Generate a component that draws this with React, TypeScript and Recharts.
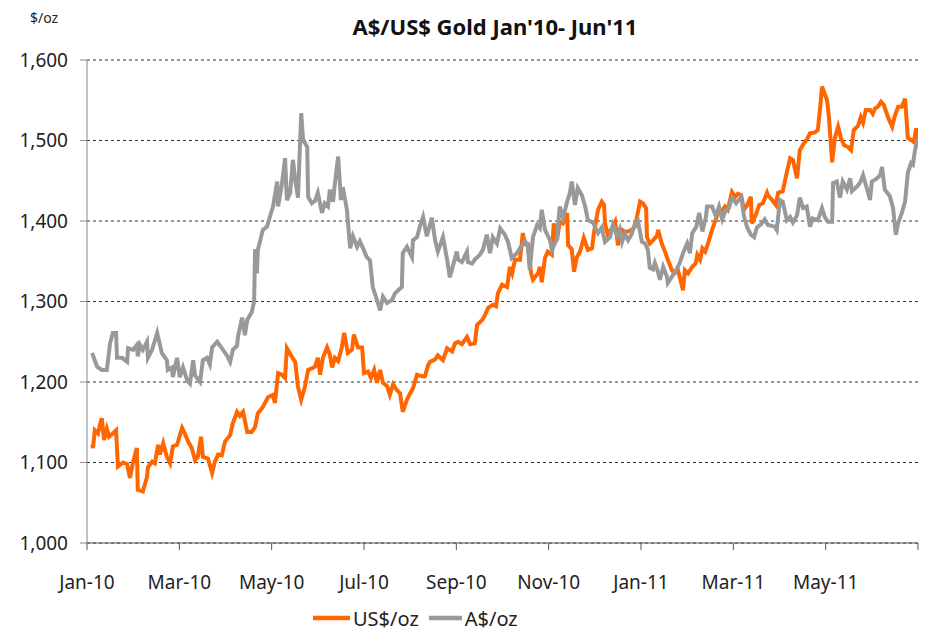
import React from "react";
import { LineChart, Line, XAxis, YAxis, CartesianGrid } from "recharts";

// Time in months since 1 Jan 2010
const usTimes = [0.11,0.13,0.17,0.24,0.28,0.32,0.37,0.43,0.48,0.54,0.63,0.67,0.78,0.87,0.93,1.00,1.08,1.10,1.21,1.30,1.32,1.41,1.47,1.54,1.58,1.65,1.73,1.80,1.86,1.95,2.06,2.12,2.19,2.27,2.34,2.40,2.47,2.51,2.62,2.71,2.77,2.84,2.92,2.99,3.10,3.16,3.25,3.31,3.38,3.47,3.57,3.64,3.70,3.81,3.92,4.03,4.07,4.14,4.22,4.29,4.33,4.44,4.51,4.57,4.64,4.72,4.79,4.87,4.94,5.00,5.05,5.11,5.20,5.26,5.31,5.37,5.44,5.52,5.57,5.65,5.74,5.78,5.87,5.96,6.00,6.09,6.15,6.22,6.28,6.35,6.41,6.50,6.56,6.63,6.71,6.78,6.84,6.93,7.00,7.06,7.15,7.26,7.32,7.39,7.43,7.54,7.60,7.71,7.80,7.91,7.97,8.04,8.12,8.23,8.30,8.40,8.45,8.56,8.62,8.69,8.79,8.86,8.90,8.99,9.10,9.16,9.21,9.27,9.38,9.44,9.49,9.55,9.62,9.66,9.77,9.81,9.85,9.92,9.98,10.07,10.11,10.18,10.24,10.31,10.40,10.42,10.50,10.55,10.61,10.68,10.76,10.85,10.94,10.98,11.07,11.15,11.20,11.22,11.28,11.37,11.44,11.50,11.59,11.65,11.72,11.80,11.87,11.93,11.98,12.04,12.11,12.13,12.19,12.26,12.35,12.37,12.45,12.52,12.58,12.67,12.73,12.80,12.84,12.91,12.95,13.02,13.11,13.18,13.22,13.28,13.33,13.39,13.45,13.54,13.60,13.67,13.75,13.82,13.88,13.97,14.04,14.10,14.17,14.23,14.30,14.38,14.40,14.49,14.56,14.64,14.73,14.75,14.84,14.92,14.97,15.07,15.16,15.23,15.29,15.38,15.44,15.51,15.59,15.66,15.77,15.83,15.88,15.92,16.03,16.07,16.14,16.20,16.27,16.33,16.40,16.48,16.55,16.61,16.70,16.76,16.81,16.87,16.96,17.02,17.07,17.13,17.20,17.26,17.35,17.44,17.50,17.57,17.65,17.72,17.78,17.87,17.91,17.96,18.00];
const usValues = [1122,1118,1140,1136,1147,1155,1128,1142,1132,1135,1140,1095,1100,1098,1081,1101,1118,1066,1064,1082,1094,1101,1099,1122,1110,1124,1107,1099,1120,1122,1143,1136,1126,1118,1103,1107,1132,1107,1105,1087,1101,1110,1109,1126,1134,1149,1163,1158,1163,1138,1138,1144,1161,1169,1181,1184,1174,1211,1209,1205,1242,1231,1225,1194,1178,1194,1215,1217,1219,1230,1209,1230,1243,1234,1218,1230,1226,1243,1261,1236,1240,1259,1243,1243,1211,1213,1205,1215,1199,1215,1199,1195,1184,1197,1190,1186,1163,1178,1186,1192,1209,1207,1207,1221,1225,1228,1233,1227,1242,1238,1248,1250,1247,1256,1247,1248,1271,1277,1283,1292,1296,1294,1310,1321,1318,1343,1335,1352,1352,1385,1371,1371,1335,1327,1335,1343,1324,1354,1362,1358,1397,1376,1399,1397,1410,1370,1365,1337,1355,1362,1379,1364,1366,1385,1414,1424,1420,1397,1383,1391,1399,1370,1389,1387,1387,1389,1393,1410,1424,1422,1416,1380,1372,1376,1382,1389,1372,1362,1352,1339,1335,1339,1330,1314,1339,1335,1343,1347,1358,1352,1366,1362,1372,1389,1399,1410,1412,1418,1414,1436,1430,1434,1432,1414,1420,1430,1397,1408,1420,1422,1435,1432,1426,1420,1435,1437,1461,1478,1476,1453,1488,1495,1501,1509,1510,1513,1540,1567,1550,1530,1473,1503,1517,1503,1494,1492,1488,1513,1518,1529,1522,1538,1538,1533,1540,1542,1548,1544,1529,1517,1531,1542,1542,1552,1503,1500,1498,1515,1501];

const audTimes = [0.11,0.22,0.32,0.43,0.50,0.56,0.63,0.65,0.76,0.87,0.89,1.00,1.08,1.10,1.15,1.21,1.30,1.32,1.41,1.52,1.62,1.73,1.75,1.84,1.86,1.95,2.01,2.08,2.17,2.23,2.30,2.34,2.45,2.51,2.60,2.66,2.71,2.82,2.92,3.03,3.10,3.16,3.25,3.27,3.36,3.42,3.47,3.57,3.62,3.64,3.68,3.70,3.81,3.90,3.96,4.03,4.12,4.14,4.22,4.29,4.33,4.40,4.46,4.51,4.57,4.64,4.68,4.77,4.79,4.87,4.94,5.00,5.09,5.15,5.22,5.26,5.33,5.37,5.44,5.50,5.54,5.63,5.70,5.76,5.85,5.91,5.98,6.06,6.13,6.19,6.28,6.35,6.41,6.50,6.61,6.67,6.74,6.82,6.84,6.93,7.04,7.06,7.15,7.21,7.28,7.36,7.47,7.54,7.60,7.71,7.80,7.86,7.93,8.01,8.04,8.12,8.23,8.25,8.34,8.40,8.51,8.58,8.66,8.73,8.79,8.88,8.95,9.05,9.12,9.20,9.31,9.42,9.49,9.55,9.59,9.66,9.75,9.81,9.85,9.92,10.03,10.07,10.18,10.24,10.31,10.40,10.46,10.50,10.57,10.63,10.72,10.79,10.85,10.96,11.07,11.15,11.22,11.33,11.39,11.48,11.54,11.59,11.65,11.72,11.80,11.87,11.93,12.02,12.09,12.15,12.19,12.26,12.30,12.35,12.41,12.48,12.56,12.58,12.67,12.78,12.84,12.91,13.00,13.06,13.11,13.20,13.26,13.33,13.41,13.43,13.54,13.62,13.69,13.76,13.84,13.90,13.97,14.06,14.17,14.23,14.30,14.38,14.45,14.51,14.60,14.68,14.75,14.90,14.94,15.01,15.07,15.16,15.23,15.29,15.38,15.44,15.51,15.59,15.66,15.72,15.83,15.92,15.98,16.05,16.14,16.16,16.24,16.31,16.37,16.46,16.53,16.57,16.68,16.74,16.81,16.89,16.96,17.00,17.11,17.18,17.22,17.28,17.39,17.46,17.52,17.57,17.65,17.72,17.78,17.85,17.89,17.93,17.98];
const audValues = [1236,1219,1215,1215,1248,1261,1261,1230,1230,1225,1242,1240,1246,1232,1246,1240,1250,1230,1240,1261,1236,1227,1215,1218,1206,1230,1206,1218,1202,1198,1227,1208,1200,1227,1230,1222,1243,1250,1242,1233,1225,1240,1245,1256,1280,1258,1277,1287,1300,1365,1335,1364,1389,1393,1405,1418,1449,1418,1445,1478,1426,1435,1476,1451,1429,1534,1501,1492,1430,1422,1425,1435,1410,1422,1418,1439,1424,1447,1480,1426,1442,1414,1366,1381,1368,1375,1366,1355,1351,1318,1302,1289,1306,1298,1302,1310,1314,1318,1360,1368,1355,1376,1380,1393,1405,1381,1404,1376,1362,1380,1352,1330,1345,1362,1352,1349,1362,1349,1347,1352,1358,1365,1383,1360,1380,1372,1391,1383,1374,1354,1360,1370,1375,1368,1339,1380,1395,1391,1414,1389,1376,1364,1378,1418,1404,1424,1435,1449,1420,1441,1432,1418,1401,1398,1385,1392,1374,1380,1395,1382,1390,1374,1384,1376,1384,1397,1401,1374,1372,1364,1342,1340,1348,1340,1327,1343,1331,1323,1331,1341,1348,1360,1372,1360,1385,1393,1410,1387,1406,1418,1418,1406,1418,1402,1414,1416,1429,1422,1430,1406,1392,1383,1380,1392,1396,1402,1395,1393,1389,1426,1424,1401,1405,1398,1407,1429,1416,1418,1393,1403,1401,1416,1405,1399,1399,1447,1449,1429,1449,1439,1453,1437,1443,1447,1457,1441,1426,1449,1453,1457,1467,1439,1431,1416,1383,1397,1410,1424,1460,1472,1470,1486,1501];

const xTicks = [0, 2, 4, 6, 8, 10, 12, 14, 16, 18];
const xTickLabels = ["Jan-10", "Mar-10", "May-10", "Jul-10", "Sep-10", "Nov-10", "Jan-11", "Mar-11", "May-11", ""];
const yTicks = [1000, 1100, 1200, 1300, 1400, 1500, 1600];

const seriesNames = ["US$/oz", "A$/oz"];
const seriesColors = ["#FF6600", "#999999"];

const usData = usTimes.map((t, i) => ({ t, v: usValues[i] }));
const audData = audTimes.map((t, i) => ({ t, v: audValues[i] }));

const FONT = "'Noto Sans', 'Open Sans', sans-serif";

const LegendBox = () => (
  <div style={{ position: "absolute", left: 305, top: 596, height: 28, display: "flex", alignItems: "center", fontFamily: FONT, fontSize: 20, color: "#222" }}>
    {seriesNames.map((n, i) => (
      <div key={n} style={{ display: "flex", alignItems: "center", marginRight: i === 0 ? 10 : 0 }}>
        <svg width={i === 0 ? 37 : 33} height={6} style={{ marginRight: 3 }}>
          <line x1={0} y1={3} x2={40} y2={3} stroke={seriesColors[i]} strokeWidth={4.5} />
        </svg>
        <span>{n}</span>
      </div>
    ))}
  </div>
);

export default function App() {
  return (
    <div style={{ position: "relative", width: 919, height: 624, background: "#fff" }}>
      <div style={{ position: "absolute", left: 0, width: 974, top: 3, textAlign: "center", fontFamily: FONT, fontWeight: 700, fontSize: 22, color: "#111" }}>
        A$/US$ Gold Jan'10- Jun'11
      </div>
      <div style={{ position: "absolute", left: 22, top: 0, fontFamily: FONT, fontSize: 14, color: "#222" }}>$/oz</div>
      <LineChart width={919} height={624} margin={{ top: 52, right: 9, left: 9, bottom: 35 }}>
        <CartesianGrid horizontal vertical={false} stroke="#333" strokeDasharray="3 3" />
        <XAxis
          type="number"
          dataKey="t"
          domain={[0, 18]}
          ticks={xTicks}
          tickFormatter={(v: number) => xTickLabels[xTicks.indexOf(v)] ?? ""}
          interval={0}
          height={54}
          tickSize={7}
          tickMargin={26}
          stroke="#555"
          tick={{ fill: "#222", fontSize: 19, fontFamily: FONT }}
          allowDataOverflow
        />
        <YAxis
          type="number"
          domain={[1000, 1600]}
          ticks={yTicks}
          tickFormatter={(v: number) => v.toLocaleString("en-US")}
          width={70}
          tickSize={7}
          tickMargin={12}
          stroke="#888"
          tick={{ fill: "#222", fontSize: 19, fontFamily: FONT }}
          allowDataOverflow
        />
        <Line data={usData} dataKey="v" name={seriesNames[0]} stroke={seriesColors[0]} strokeWidth={4} dot={false} isAnimationActive={false} />
        <Line data={audData} dataKey="v" name={seriesNames[1]} stroke={seriesColors[1]} strokeWidth={4} dot={false} isAnimationActive={false} />
      </LineChart>
      <LegendBox />
    </div>
  );
}
